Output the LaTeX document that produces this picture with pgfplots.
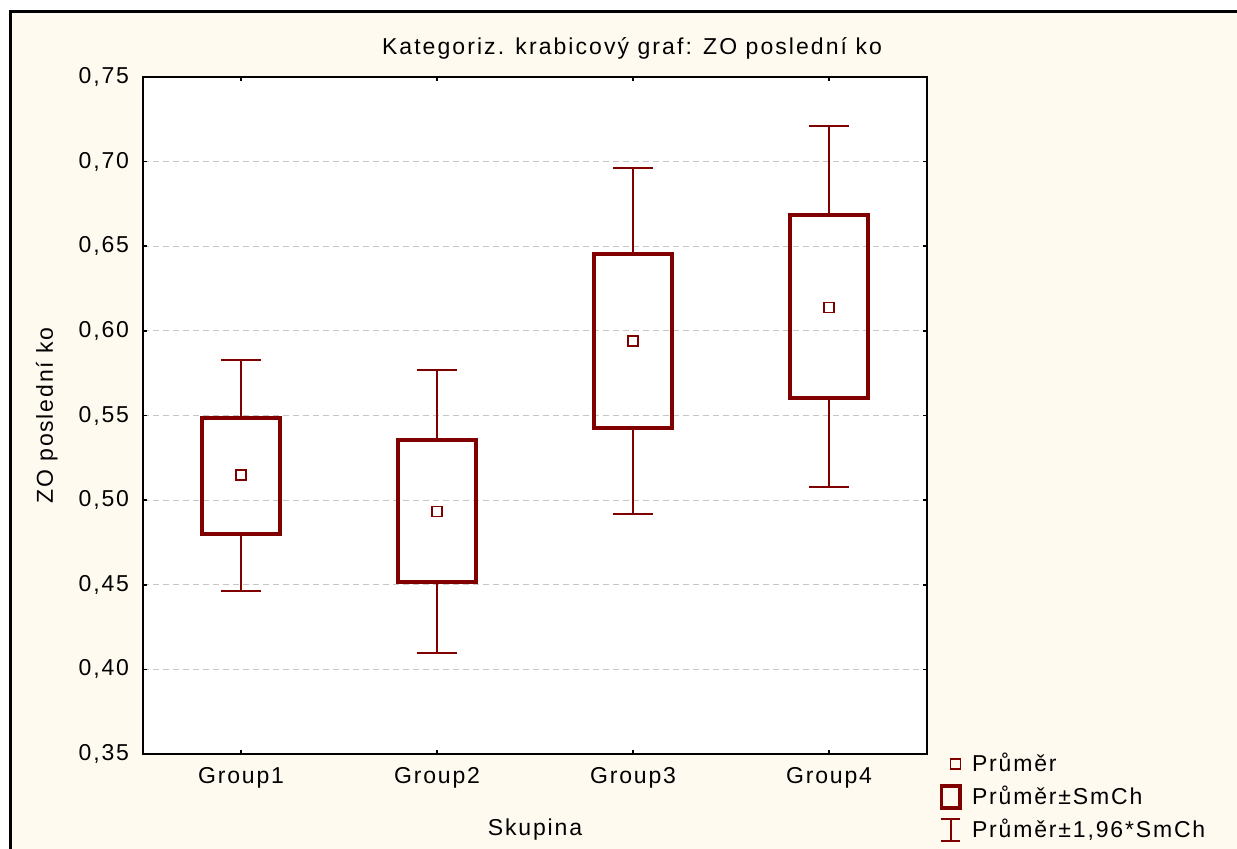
\documentclass[border=0pt]{standalone}
\usepackage{pgfplots}
\pgfplotsset{compat=1.18}
\usepgfplotslibrary{statistics}
\usepackage{fontspec}
\setmainfont[LetterSpace=8]{Liberation Sans}
\definecolor{maroon}{RGB}{128,0,0}
\definecolor{cream}{RGB}{255,250,240}
\begin{document}
\fontsize{11.5}{14}\selectfont
\begin{tikzpicture}[font=\fontsize{11.5}{14}\selectfont]
\useasboundingbox (0,0) rectangle (618.5pt,424pt);
\fill[white] (0,0) rectangle (618.5pt,424pt);
\filldraw[fill=cream, draw=black, line width=1.5pt] (5pt,-10pt) rectangle (640pt,418pt);
\begin{axis}[
  at={(71.5pt,47pt)}, anchor=south west,
  scale only axis, width=392pt, height=338.5pt,
  xmin=0.5, xmax=4.5, ymin=0.35, ymax=0.75,
  xtick={1,2,3,4}, xticklabels={Group1,Group2,Group3,Group4},
  ytick={0.35,0.40,0.45,0.50,0.55,0.60,0.65,0.70,0.75},
  yticklabel style={xshift=-3pt, /pgf/number format/.cd, fixed, fixed zerofill, precision=2, use comma, assume math mode=true},
  xticklabel style={anchor=base, yshift=-14.5pt},
  tick align=inside, major tick length=2pt,
  xtick pos=both, ytick pos=both,
  tick style={black, line width=0.8pt},
  axis line style={line width=1.2pt},
  ymajorgrids, major grid style={densely dashed, gray!45, line width=0.5pt},
  axis background/.style={fill=white},
  title={\addfontfeature{LetterSpace=9}Kategoriz. krabicový graf: ZO poslední ko},
  title style={at={(axis description cs:0.6237,1.0148)}, anchor=base},
  xlabel={Skupina},
  xlabel style={at={(axis description cs:0.5,-0.1211)}, anchor=base},
  ylabel={ZO poslední ko},
  ylabel style={at={(axis description cs:-0.115,0.5)}, anchor=base},
  boxplot/draw direction=y,
  boxplot/draw/median/.code={},
  boxplot/every box/.style={line width=1.8pt},
  boxplot/every whisker/.style={line width=1pt},
  legend style={at={(axis description cs:1.008,0.0139)}, anchor=north west, draw=none, fill=none, row sep=1.5pt, font=\fontsize{11.5}{14}\selectfont,
    /tikz/every odd column/.append style={column sep=3pt}},
  legend cell align=left,
]
\addlegendimage{only marks, mark=square, mark size=2.5pt, maroon, mark options={line width=0.6pt}}
\addlegendentry{Průměr}
\addlegendimage{legend image code/.code={\draw[maroon, line width=1.8pt] (0.05cm,-0.19cm) rectangle (0.38cm,0.19cm);}}
\addlegendentry{Průměr±SmCh}
\addlegendimage{legend image code/.code={\draw[maroon, line width=1pt] (0.215cm,-0.2cm)--(0.215cm,0.2cm) (0.05cm,-0.2cm)--(0.38cm,-0.2cm) (0.05cm,0.2cm)--(0.38cm,0.2cm);}}
\addlegendentry{Průměr±1,96*SmCh}

\addplot[maroon, forget plot, boxplot prepared={draw position=1, lower whisker=0.4463, lower quartile=0.4800, median=0.5148, upper quartile=0.5485, upper whisker=0.5828, box extend=0.4, whisker extend=0.2}] coordinates {};
\addplot[maroon, forget plot, boxplot prepared={draw position=2, lower whisker=0.4097, lower quartile=0.4516, median=0.4935, upper quartile=0.5355, upper whisker=0.5769, box extend=0.4, whisker extend=0.2}] coordinates {};
\addplot[maroon, forget plot, boxplot prepared={draw position=3, lower whisker=0.4918, lower quartile=0.5426, median=0.5940, upper quartile=0.6454, upper whisker=0.6962, box extend=0.4, whisker extend=0.2}] coordinates {};
\addplot[maroon, forget plot, boxplot prepared={draw position=4, lower whisker=0.5077, lower quartile=0.5603, median=0.6140, upper quartile=0.6685, upper whisker=0.7210, box extend=0.4, whisker extend=0.2}] coordinates {};
\addplot[forget plot, only marks, mark=square, mark size=2.5pt, maroon, mark options={line width=0.6pt}] coordinates {(1,0.5148) (2,0.4935) (3,0.5940) (4,0.6140)};
\end{axis}
\end{tikzpicture}
\end{document}
